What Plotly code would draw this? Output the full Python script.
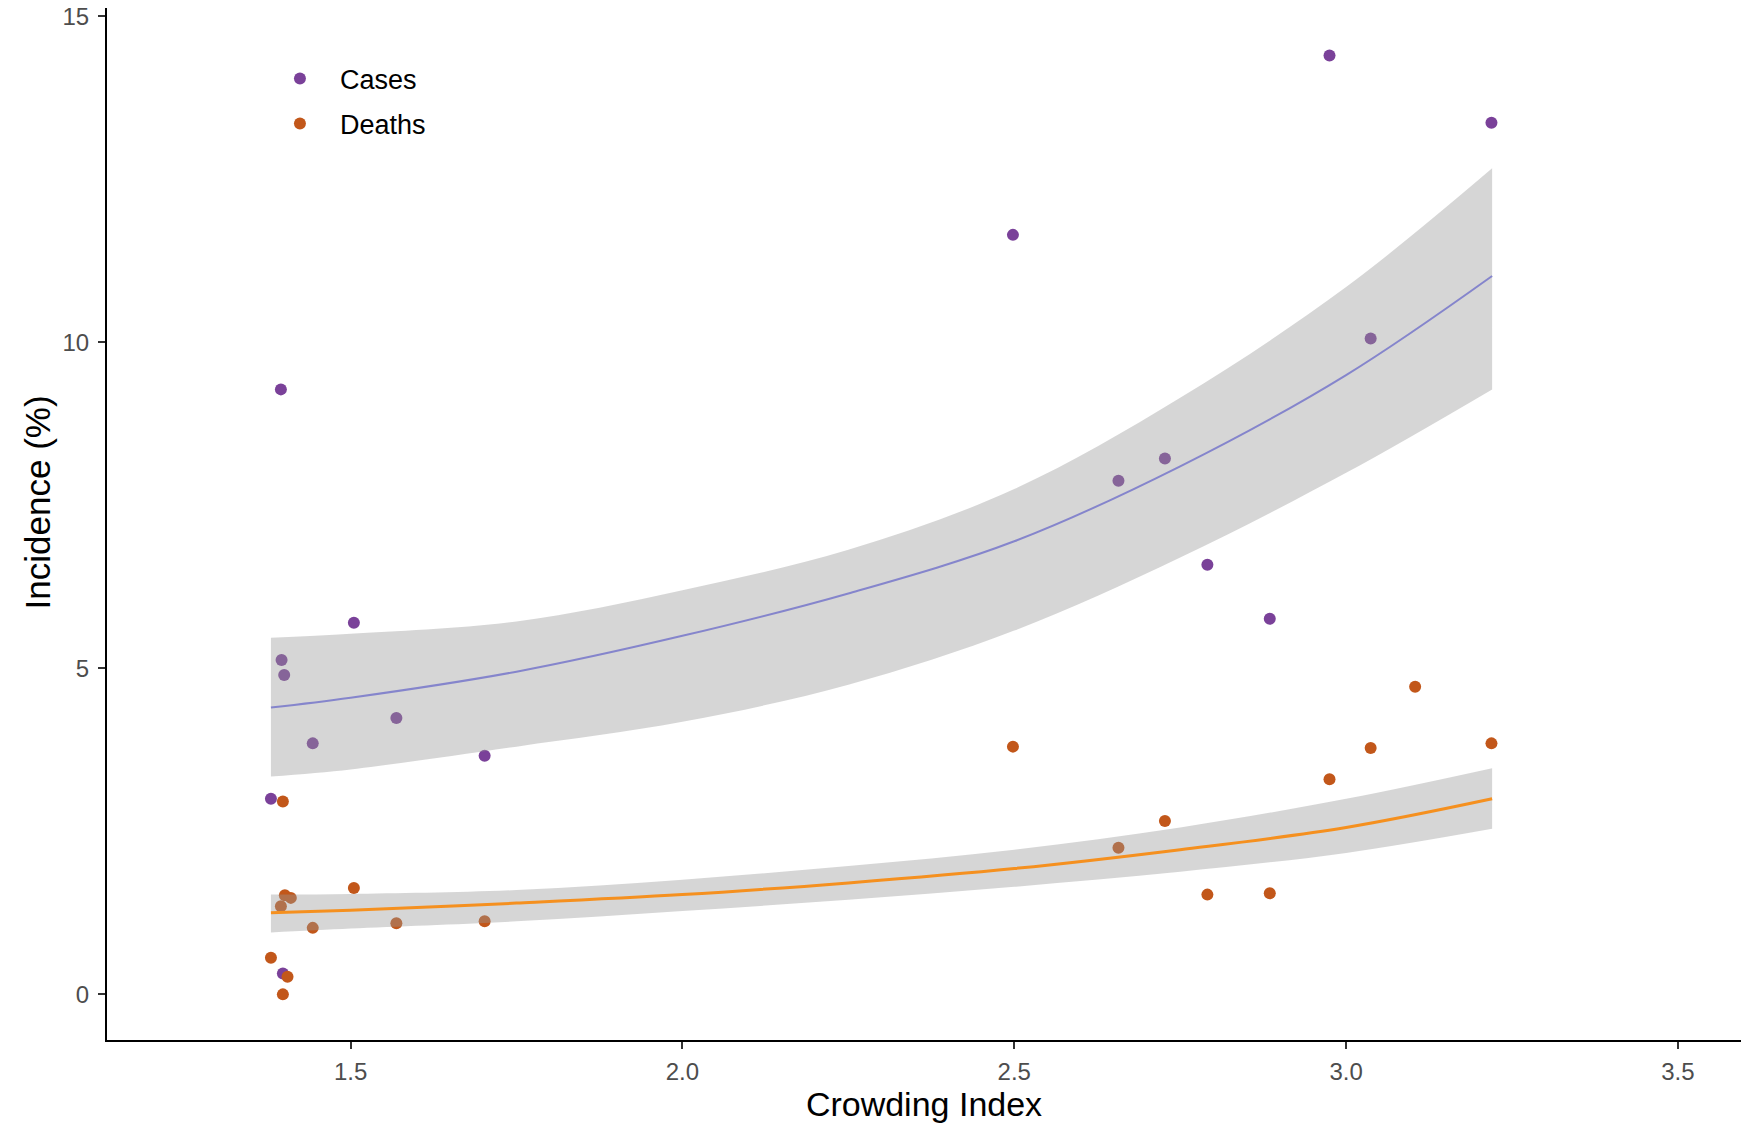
import plotly.graph_objects as go

# ---- data ----
cases_x = [2.975, 3.219, 2.498, 1.395, 3.037, 2.727, 2.657, 2.791, 2.885, 1.505,
           1.396, 1.400, 1.569, 1.443, 1.702, 1.380, 1.398]
cases_y = [14.40, 13.37, 11.65, 9.28, 10.06, 8.22, 7.88, 6.59, 5.76, 5.70,
           5.13, 4.90, 4.24, 3.85, 3.66, 3.00, 0.32]

deaths_x = [3.104, 2.498, 3.037, 3.219, 2.975, 2.727, 2.657, 1.398, 1.505, 2.791,
            2.885, 1.401, 1.410, 1.395, 1.569, 1.702, 1.443, 1.380, 1.405, 1.398]
deaths_y = [4.72, 3.80, 3.78, 3.85, 3.30, 2.66, 2.25, 2.96, 1.63, 1.53,
            1.55, 1.52, 1.48, 1.35, 1.09, 1.12, 1.02, 0.56, 0.27, 0.00]

# fitted curves
fit_x = [1.38, 1.50, 1.75, 2.00, 2.25, 2.50, 2.75, 3.00, 3.22]
cases_fit = [4.40, 4.55, 4.95, 5.50, 6.15, 6.95, 8.10, 9.50, 11.02]
cases_hi = [5.47, 5.53, 5.72, 6.20, 6.82, 7.75, 9.15, 10.85, 12.67]
cases_lo = [3.34, 3.45, 3.80, 4.18, 4.75, 5.58, 6.70, 8.00, 9.28]
deaths_fit = [1.25, 1.29, 1.40, 1.53, 1.71, 1.93, 2.22, 2.56, 3.00]
deaths_hi = [1.53, 1.54, 1.60, 1.76, 1.97, 2.22, 2.56, 3.00, 3.47]
deaths_lo = [0.95, 1.01, 1.12, 1.28, 1.45, 1.65, 1.88, 2.17, 2.54]

x_ticks = [1.5, 2.0, 2.5, 3.0, 3.5]
y_ticks = [0, 5, 10, 15]

PURPLE = "#7a4199"
ORANGE = "#c2571a"
BAND = "rgba(153,153,153,0.4)"

fig = go.Figure()

fig.add_trace(go.Scatter(x=cases_x, y=cases_y, mode="markers", name="Cases",
                         legendgroup="c",
                         marker=dict(color=PURPLE, size=12)))
fig.add_trace(go.Scatter(x=deaths_x, y=deaths_y, mode="markers", name="Deaths",
                         legendgroup="d",
                         marker=dict(color=ORANGE, size=12)))

for lo, hi, fit, col, w in [(cases_lo, cases_hi, cases_fit, "#8585cc", 2),
                            (deaths_lo, deaths_hi, deaths_fit, "#f5901f", 3)]:
    fig.add_trace(go.Scatter(x=fit_x, y=hi, mode="lines",
                             line=dict(width=0, shape="spline"),
                             showlegend=False, hoverinfo="skip"))
    fig.add_trace(go.Scatter(x=fit_x, y=lo, mode="lines",
                             line=dict(width=0, shape="spline"),
                             fill="tonexty", fillcolor=BAND,
                             showlegend=False, hoverinfo="skip"))
    fig.add_trace(go.Scatter(x=fit_x, y=fit, mode="lines",
                             line=dict(color=col, width=w, shape="spline"),
                             showlegend=False))

font_family = "Liberation Sans, Arial, sans-serif"

fig.update_layout(
    width=1741, height=1127,
    margin=dict(l=107, r=0, t=8, b=87, autoexpand=False),
    paper_bgcolor="white", plot_bgcolor="white",
    font=dict(family=font_family, color="black"),
    showlegend=True,
    legend=dict(x=0.0936, y=0.955, xanchor="left", yanchor="top",
                font=dict(size=27, color="black"), itemwidth=70,
                tracegroupgap=7, bgcolor="rgba(0,0,0,0)"),
    xaxis=dict(range=[1.133, 3.595], tickvals=x_ticks,
               ticktext=[f"{v:.1f}" for v in x_ticks],
               showgrid=False, zeroline=False, showline=True,
               linecolor="black", linewidth=2, ticks="outside", ticklen=7,
               tickcolor="#333333", tickwidth=1.5,
               tickfont=dict(size=24, color="#4d4d4d"),
               ticklabelstandoff=2,
               title=dict(text="Crowding Index", font=dict(size=34, color="black"),
                          standoff=6)),
    yaxis=dict(range=[-0.70, 15.13], tickvals=y_ticks,
               showgrid=False, zeroline=False, showline=True,
               linecolor="black", linewidth=2, ticks="outside", ticklen=7,
               tickcolor="#333333", tickwidth=1.5,
               tickfont=dict(size=24, color="#4d4d4d"),
               ticklabelstandoff=4),
    annotations=[dict(text="Incidence (%)", textangle=-90, showarrow=False,
                      xref="paper", yref="paper", x=-0.0428, y=0.521,
                      xanchor="center", yanchor="middle",
                      font=dict(size=35, color="black"))],
)

fig.write_html("out.html")
